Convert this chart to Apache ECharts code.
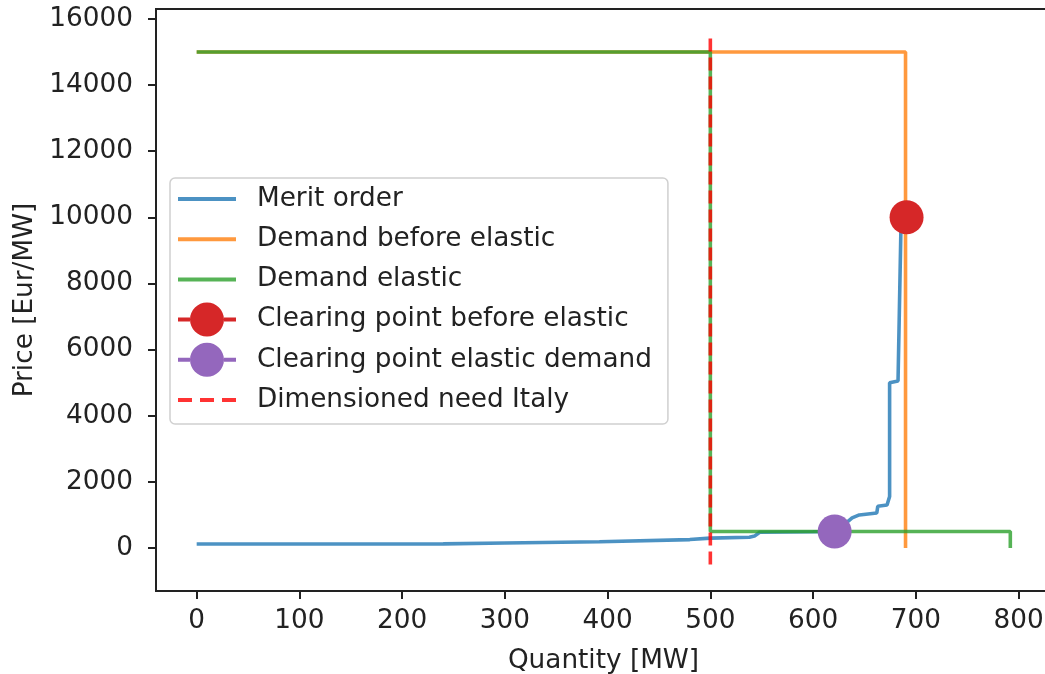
<!DOCTYPE html>
<html>
<head>
<meta charset="utf-8">
<script src="https://cdn.jsdelivr.net/npm/echarts@6/dist/echarts.min.js"></script>
<style>
  html, body { margin: 0; padding: 0; background: #fff; }
  #chart { width: 1045px; height: 674px; }
</style>
</head>
<body>
<div id="chart"></div>
<script>
  // merit order curve (quantity MW, price Eur/MW)
  const meritQty = [0, 100, 240, 300, 392, 480, 500, 538, 543, 548, 600, 621, 630, 638, 645, 662, 663, 672, 674.5, 674.5, 682.7, 685.5, 690]
  const meritPrice = [120, 120, 125, 150, 190, 255, 300, 325, 360, 475, 490, 500, 700, 910, 1000, 1060, 1265, 1300, 1560, 5000, 5050, 9630, 10000]

  const demandBeforeQty = [0, 690, 690]
  const demandBeforePrice = [15000, 15000, 0]

  const demandElasticQty = [0, 500, 500, 792, 792]
  const demandElasticPrice = [15000, 15000, 500, 500, 0]

  const clearingBefore = [691, 10000]
  const clearingElastic = [621, 500]

  const needQty = [500, 500]
  const needPrice = [-500, 15500]

  const xTicks = [0, 100, 200, 300, 400, 500, 600, 700, 800]
  const yTicks = [0, 2000, 4000, 6000, 8000, 10000, 12000, 14000, 16000]

  const pairs = (xs, ys) => xs.map((x, i) => [x, ys[i]])

  const FONT = 'DejaVu Sans'
  const FS = 26.3
  const TEXT = '#222'

  // legend handles: plain line, dashed line, line with a round marker
  const lineIcon = 'path://M0,0h58v4h-58z'
  const dashIcon = 'path://M0,0h14v4h-14z M22,0h14v4h-14z M44,0h14v4h-14z'
  const dotIcon = 'path://M0,15h12v4h-12z M46,15h12v4h-12z' +
    ' M29,0C38.4,0 46,7.6 46,17C46,26.4 38.4,34 29,34C19.6,34 12,26.4 12,17C12,7.6 19.6,0 29,0z'

  const chart = echarts.init(document.getElementById('chart'))

  const option = {
    animation: false,
    grid: {
      left: 156,
      top: 9,
      width: 895,
      height: 582,
      show: true,
      borderColor: '#222',
      borderWidth: 2,
      outerBoundsMode: 'none'
    },
    legend: {
      left: 170,
      top: 178,
      orient: 'vertical',
      itemWidth: 58,
      itemHeight: 34,
      itemGap: 6.2,
      padding: [4, 16, 7, 8],
      backgroundColor: 'rgba(255,255,255,0.8)',
      borderColor: '#d0d0d0',
      borderWidth: 1.5,
      borderRadius: 5,
      itemStyle: { borderWidth: 0 },
      textStyle: { fontFamily: FONT, fontSize: FS, lineHeight: 34, color: TEXT, padding: [0, 0, 0, 16] },
      data: [
        { name: 'Merit order', icon: lineIcon },
        { name: 'Demand before elastic', icon: lineIcon },
        { name: 'Demand elastic', icon: lineIcon },
        { name: 'Clearing point before elastic', icon: dotIcon },
        { name: 'Clearing point elastic demand', icon: dotIcon },
        { name: 'Dimensioned need Italy', icon: dashIcon }
      ]
    },
    xAxis: {
      type: 'value',
      min: -39.6,
      max: 831.6,
      name: 'Quantity [MW]',
      nameLocation: 'middle',
      nameGap: 57,
      nameTextStyle: { fontFamily: FONT, fontSize: FS, color: TEXT },
      splitLine: { show: false },
      axisLine: { show: false, onZero: false },
      axisTick: { show: true, length: 8, customValues: xTicks, lineStyle: { color: '#222', width: 2 } },
      axisLabel: { customValues: xTicks, margin: 17, fontFamily: FONT, fontSize: FS, color: TEXT, formatter: v => String(v) }
    },
    yAxis: {
      type: 'value',
      min: -1300,
      max: 16300,
      name: 'Price [Eur/MW]',
      nameLocation: 'middle',
      nameGap: 111,
      nameTextStyle: { fontFamily: FONT, fontSize: FS, color: TEXT },
      splitLine: { show: false },
      axisLine: { show: false, onZero: false },
      axisTick: { show: true, length: 8, customValues: yTicks, lineStyle: { color: '#222', width: 2 } },
      axisLabel: { customValues: yTicks, margin: 23, fontFamily: FONT, fontSize: FS, color: TEXT, formatter: v => String(v) }
    },
    series: [
      {
        name: 'Merit order',
        type: 'line',
        symbol: 'none',
        data: pairs(meritQty, meritPrice),
        itemStyle: { color: 'rgba(31,119,180,0.8)' },
        lineStyle: { color: 'rgba(31,119,180,0.8)', width: 3.6 }
      },
      {
        name: 'Demand before elastic',
        type: 'line',
        symbol: 'none',
        data: pairs(demandBeforeQty, demandBeforePrice),
        itemStyle: { color: 'rgba(255,127,14,0.8)' },
        lineStyle: { color: 'rgba(255,127,14,0.8)', width: 3.6 }
      },
      {
        name: 'Demand elastic',
        type: 'line',
        symbol: 'none',
        data: pairs(demandElasticQty, demandElasticPrice),
        itemStyle: { color: 'rgba(44,160,44,0.8)' },
        lineStyle: { color: 'rgba(44,160,44,0.8)', width: 3.6 }
      },
      {
        name: 'Clearing point before elastic',
        type: 'line',
        symbol: 'circle',
        symbolSize: 34,
        data: [clearingBefore],
        itemStyle: { color: '#d62728' },
        lineStyle: { color: '#d62728', width: 3.6 }
      },
      {
        name: 'Clearing point elastic demand',
        type: 'line',
        symbol: 'circle',
        symbolSize: 34,
        data: [clearingElastic],
        itemStyle: { color: '#9467bd' },
        lineStyle: { color: '#9467bd', width: 3.6 }
      },
      {
        name: 'Dimensioned need Italy',
        type: 'line',
        symbol: 'none',
        data: pairs(needQty, needPrice),
        itemStyle: { color: 'rgba(255,0,0,0.8)' },
        lineStyle: { color: 'rgba(255,0,0,0.8)', width: 3.6, type: [13, 6] }
      }
    ]
  }

  chart.setOption(option)
</script>
</body>
</html>
